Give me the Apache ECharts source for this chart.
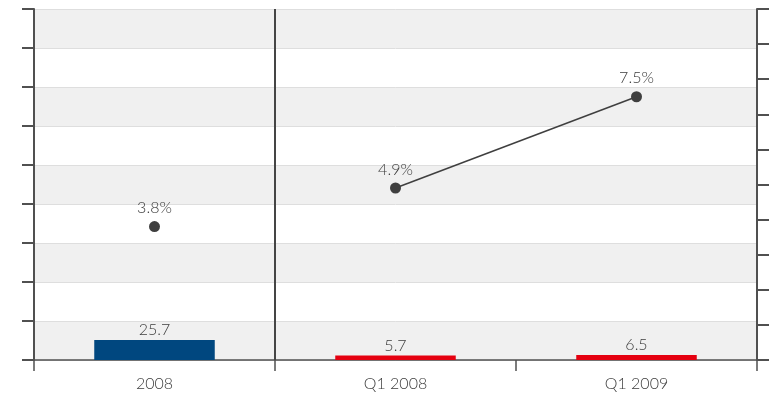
<!DOCTYPE html>
<html>
<head>
<meta charset="utf-8">
<script src="https://cdn.jsdelivr.net/npm/echarts@6/dist/echarts.min.js"></script>
<style>
  html, body { margin: 0; padding: 0; background: #fff; }
  #chart { width: 769px; height: 396px; }
</style>
</head>
<body>
<div id="chart"></div>
<script>
// Periods on the category axis
const categories = ['2008', 'Q1 2008', 'Q1 2009'];
// Bar values (left axis)
const barValues = [25.7, 5.7, 6.5];
const barColors = ['#00477f', '#e50010', '#e50010'];
// Percentage values (right axis)
const annualPct = [3.8, null, null];
const quarterPct = [null, 4.9, 7.5];
// The quarterly section starts at this category index
const quarterlyStart = 1;

const textColor = '#3c3c3c';
const axisColor = '#505050';
const fontFamily = 'Lato, "Open Sans", sans-serif';
const labelFont = { color: textColor, fontSize: 16, fontFamily: fontFamily, fontWeight: 300 };

const chart = echarts.init(document.getElementById('chart'));
chart.setOption({
  animation: false,
  backgroundColor: '#ffffff',
  textStyle: { fontFamily: fontFamily },
  grid: { left: 34, right: 12, top: 9, bottom: 36 },
  xAxis: [
    {
      type: 'category',
      data: categories,
      boundaryGap: true,
      axisLine: { lineStyle: { color: axisColor, width: 1.5 } },
      axisTick: { show: true, length: 11, lineStyle: { color: axisColor, width: 1.5 } },
      axisLabel: Object.assign({ margin: 16 }, labelFont),
      splitLine: { show: false }
    },
    {
      // hidden linear twin of the category axis, used to place the section divider
      type: 'value',
      min: 0, max: categories.length,
      show: false
    }
  ],
  yAxis: [
    {
      type: 'value',
      min: 0, max: 450, interval: 50,
      axisLine: { show: true, lineStyle: { color: axisColor, width: 2 } },
      axisTick: { show: true, length: 12, lineStyle: { color: axisColor, width: 2 } },
      axisLabel: { show: false },
      splitLine: { show: true, lineStyle: { color: '#dedede', width: 1 } },
      splitArea: { show: true, areaStyle: { color: ['#f0f0f0', '#ffffff'] } }
    },
    {
      type: 'value',
      min: 0, max: 10, interval: 1,
      position: 'right',
      axisLine: { show: true, lineStyle: { color: axisColor, width: 2 } },
      axisTick: { show: true, length: 12, lineStyle: { color: axisColor, width: 2 } },
      axisLabel: { show: false },
      splitLine: { show: false }
    }
  ],
  series: [
    {
      type: 'bar',
      yAxisIndex: 0,
      barWidth: '50%',
      data: barValues.map((v, i) => ({ value: v, itemStyle: { color: barColors[i] } })),
      label: Object.assign({ show: true, position: 'top', distance: 2 }, labelFont),
      z: 3
    },
    {
      type: 'line',
      yAxisIndex: 1,
      data: annualPct,
      symbol: 'circle', symbolSize: 11,
      itemStyle: { color: '#3f3f3f' },
      lineStyle: { width: 0 },
      label: Object.assign({ show: true, position: 'top', distance: 5,
        formatter: p => p.value + '%' }, labelFont),
      z: 4
    },
    {
      type: 'line',
      yAxisIndex: 1,
      data: quarterPct,
      symbol: 'circle', symbolSize: 11,
      itemStyle: { color: '#3f3f3f' },
      lineStyle: { color: '#3f3f3f', width: 1.5 },
      label: Object.assign({ show: true, position: 'top', distance: 5,
        formatter: p => p.value + '%' }, labelFont),
      z: 4
    },
    {
      // section divider between annual and quarterly figures
      type: 'line',
      xAxisIndex: 1,
      yAxisIndex: 0,
      data: [],
      silent: true,
      markLine: {
        symbol: 'none',
        silent: true,
        label: { show: false },
        lineStyle: { color: '#454545', width: 2, type: 'solid' },
        data: [{ xAxis: quarterlyStart }]
      },
      z: 5
    }
  ]
});
</script>
</body>
</html>
